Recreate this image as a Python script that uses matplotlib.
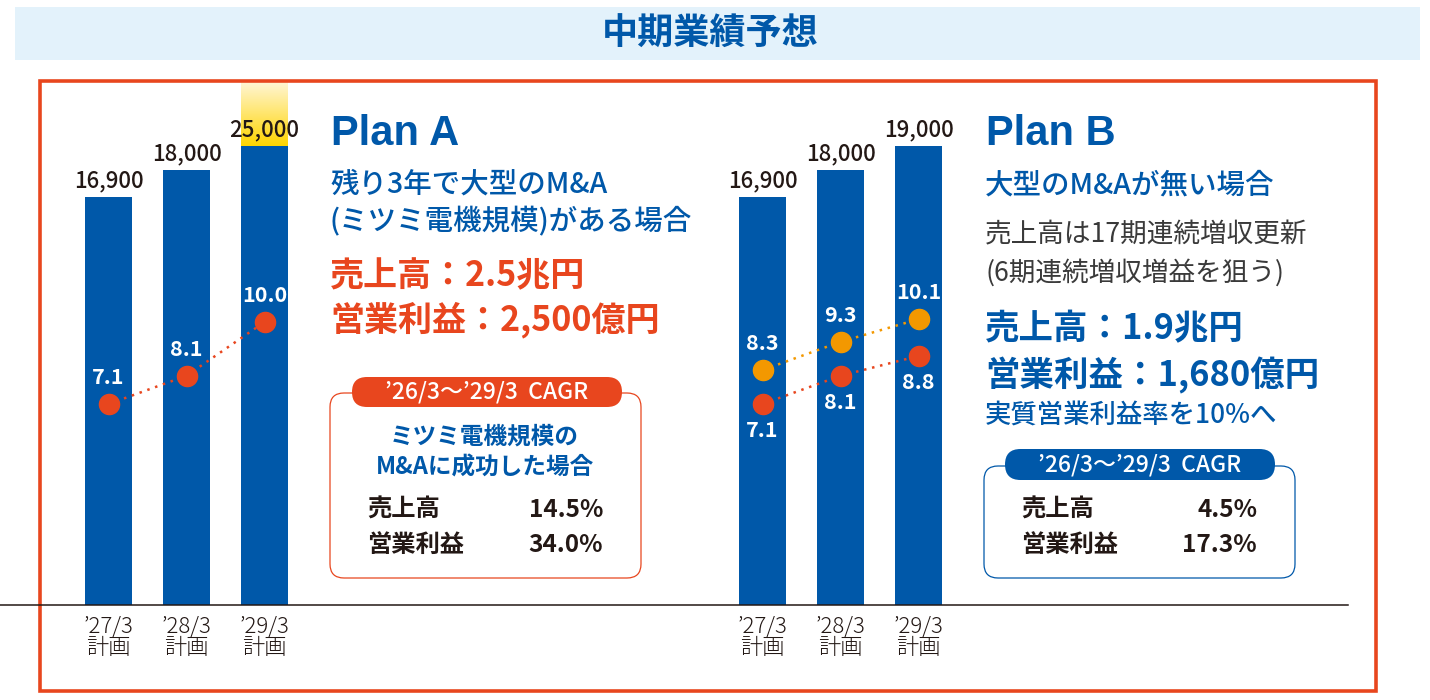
import matplotlib.pyplot as plt
import numpy as np
from matplotlib.patches import Rectangle, FancyBboxPatch
from matplotlib.colors import LinearSegmentedColormap

plt.rcParams['font.family'] = ['Noto Sans CJK JP', 'DejaVu Sans']

# データ
years = ["’27/3\n計画", "’28/3\n計画", "’29/3\n計画"]
sales_a = [16900, 18000, 25000]          # 売上高 (億円) Plan A
sales_b = [16900, 18000, 19000]          # 売上高 (億円) Plan B
margin_a = [7.1, 8.1, 10.0]              # 営業利益率 Plan A
margin_b_real = [8.3, 9.3, 10.1]         # 実質営業利益率 Plan B
margin_b = [7.1, 8.1, 8.8]               # 営業利益率 Plan B
cagr_items = ["売上高", "営業利益"]
cagr_a = ["14.5%", "34.0%"]
cagr_b = ["4.5%", "17.3%"]

BLUE = "#0058A9"
RED = "#E8461E"
ORANGE = "#F39800"
DARK = "#231815"

W, H = 1430, 700
BASE_Y = 605          # ベースライン (px)
TOP_Y = 82            # 枠の上端 (px)
PX_SALES = 408 / 16900
PX_PCT = 28.3
STEP = 78
CAP = 19000           # 25,000 の棒はここで切って黄色グラデーション

fig = plt.figure(figsize=(W / 100, H / 100), dpi=100)
ylw = LinearSegmentedColormap.from_list("ylw", ["#FFD500", "#FFF6D8"])


def bar_panel(cx0, sales, series):
    left = cx0 - 0.6 * STEP
    ax = fig.add_axes([left / W, (H - BASE_Y) / H, 3.2 * STEP / W, (BASE_Y - TOP_Y) / H])
    x = np.arange(len(sales))
    ytop = (BASE_Y - TOP_Y) / PX_SALES
    bars = ax.bar(x, sales, width=0.6, color=BLUE, zorder=2)
    for b, v in zip(bars, sales):
        shown = v
        if v > CAP:
            b.set_visible(False)
            ax.bar(b.get_x() + 0.3, CAP, width=0.6, color=BLUE, zorder=2)
            grad = np.linspace(0, 1, 256).reshape(-1, 1)
            ax.imshow(grad, extent=[b.get_x(), b.get_x() + 0.6, CAP, ytop],
                      origin='lower', cmap=ylw, aspect='auto', zorder=1)
            shown = CAP
        ax.annotate(f"{v:,}", (b.get_x() + 0.3, shown), xytext=(0, 7),
                    textcoords='offset points', ha='center', va='baseline',
                    fontsize=16, fontweight='medium', color=DARK)
    ax.set_xlim(-0.6, 2.6)
    ax.set_ylim(0, ytop)
    ax.set_facecolor('none')
    for s in ax.spines.values():
        s.set_visible(False)
    ax.set_yticks([])
    ax.set_xticks(x, years)
    ax.tick_params(axis='x', length=0, pad=8, labelsize=16, labelcolor=DARK)
    for lab in ax.get_xticklabels():
        lab.set_linespacing(0.95)
        lab.set_fontweight('light')

    ax2 = ax.twinx()
    ax2.set_ylim(0, (BASE_Y - TOP_Y) / PX_PCT)
    ax2.axis('off')
    for vals, col, off in series:
        ax2.plot(x, vals, color=col, lw=1.8, ls=(0, (1, 2.3)), zorder=3)
        ax2.plot(x, vals, 'o', color=col, ms=14.5, zorder=4)
        for xi, v in zip(x, vals):
            ax2.annotate(f"{v:.1f}", (xi, v), xytext=(0, off), textcoords='offset points',
                         ha='center', va='center', fontsize=15.5, fontweight='bold',
                         color='white', zorder=5)
    return ax


bar_panel(108.5, sales_a, [(margin_a, RED, 19)])
bar_panel(762.5, sales_b, [(margin_b_real, ORANGE, 19), (margin_b, RED, -19)])

# 重ね描き用の軸 (px 座標)
ov = fig.add_axes([0, 0, 1, 1], zorder=10)
ov.set_xlim(0, W)
ov.set_ylim(H, 0)
ov.axis('off')

ov.add_patch(Rectangle((15, 7), 1405, 53, color="#E3F2FB", lw=0))
ov.text(710, 34, "中期業績予想", ha='center', va='center', fontsize=26,
        fontweight='bold', color=BLUE)
ov.add_patch(Rectangle((40, 81), 1336, 610, fill=False, ec=RED, lw=2.6))
ov.plot([0, 1348], [605, 605], color=DARK, lw=1.1)

# Plan A テキスト
ov.text(331, 134, "Plan A", fontsize=30, fontweight='bold', color=BLUE,
        family=['Liberation Sans'], ha='left', va='center')
ov.text(330, 184, "残り3年で大型のM&A", fontsize=20.5, fontweight='medium', color=BLUE, va='center')
ov.text(330, 221, "(ミツミ電機規模)がある場合", fontsize=20.5, fontweight='medium', color=BLUE, va='center')
ov.text(330, 276, "売上高：2.5兆円", fontsize=24.5, fontweight='bold', color=RED, va='center')
ov.text(330, 320, "営業利益：2,500億円", fontsize=24.5, fontweight='bold', color=RED, va='center')

# Plan B テキスト
ov.text(986, 134, "Plan B", fontsize=30, fontweight='bold', color=BLUE,
        family=['Liberation Sans'], ha='left', va='center')
ov.text(985, 185, "大型のM&Aが無い場合", fontsize=20.5, fontweight='medium', color=BLUE, va='center')
ov.text(985, 235, "売上高は17期連続増収更新", fontsize=19.2, color="#3A3A3A", va='center')
ov.text(985, 273, "(6期連続増収増益を狙う)", fontsize=19.2, color="#3A3A3A", va='center')
ov.text(985, 329, "売上高：1.9兆円", fontsize=24.8, fontweight='bold', color=BLUE, va='center')
ov.text(985, 375, "営業利益：1,680億円", fontsize=24.8, fontweight='bold', color=BLUE, va='center')
ov.text(985, 416, "実質営業利益率を10%へ", fontsize=19, fontweight='medium', color=BLUE, va='center')


def cagr_box(bx, by, bw, bh, px, py, pw, ph, col, values, vx, sub=None):
    ov.add_patch(FancyBboxPatch((bx, by), bw, bh, boxstyle="round,pad=0,rounding_size=14",
                                fc='white', ec=col, lw=0.9))
    ov.add_patch(FancyBboxPatch((px, py), pw, ph, boxstyle=f"round,pad=0,rounding_size={ph / 2}",
                                fc=col, ec='none'))
    ov.text(px + pw / 2, py + ph / 2, "’26/3～’29/3  CAGR", ha='center', va='center',
            fontsize=16.5, fontweight='medium', color='white')
    if sub:
        for i, s in enumerate(sub):
            ov.text(bx + bw / 2 - 1, 437 + i * 31, s, ha='center', va='center', fontsize=17,
                    fontweight='bold', color=BLUE)
    for i, (k, v) in enumerate(zip(cagr_items, values)):
        ov.text(bx + 37, 510 + i * 35, k, ha='left', va='center', fontsize=17.5,
                fontweight='bold', color=DARK)
        ov.text(vx, 510 + i * 35, v, ha='right', va='center', fontsize=17.5,
                fontweight='bold', color=DARK)


cagr_box(330, 393, 311, 185, 352, 377, 270, 30, RED, cagr_a, 603,
         sub=["ミツミ電機規模の", "M&Aに成功した場合"])
cagr_box(984, 466, 311, 112, 1005, 449, 270, 31, BLUE, cagr_b, 1257)

fig.savefig("out.png", dpi=100)
